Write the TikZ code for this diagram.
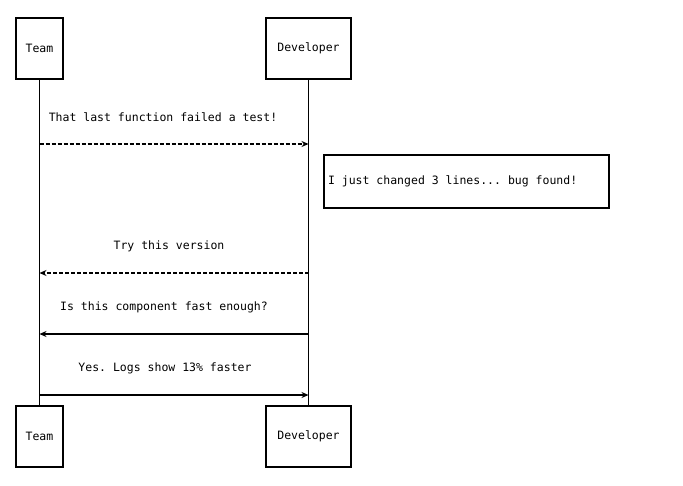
\documentclass[tikz,border=0pt]{standalone}
\usepackage{fontspec}
\setmonofont{DejaVu Sans Mono}
\usetikzlibrary{arrows.meta}
\begin{document}
\begin{tikzpicture}[x=1pt,y=-1pt,
  txt/.style={font=\ttfamily\fontsize{11.5}{13}\selectfont\frenchspacing},
  actor/.style={txt,draw,line width=1.4pt,minimum height=61pt,inner sep=0pt},
  lbl/.style={txt,inner sep=0pt},
  life/.style={line width=1.4pt},
  msg/.style={line width=1.2pt,-{Stealth[length=7pt,width=6pt]}},
  dsh/.style={dash pattern=on 4pt off 2pt},
  notebox/.style={txt,draw,line width=1.4pt,minimum width=285pt,minimum height=53pt,inner sep=4pt}]
\useasboundingbox (0,0) rectangle (683,485);
\node[actor,minimum width=47pt] (t1) at (39.5,48.5) {Team};
\node[actor,minimum width=85pt] (d1) at (308.5,48.5) {Developer};
\node[actor,minimum width=47pt] (t2) at (39.5,436.5) {Team};
\node[actor,minimum width=85pt] (d2) at (308.5,436.5) {Developer};
\draw[life] (t1) -- (t2);
\draw[life] (d1) -- (d2);
\coordinate (a1) at (t1.south |- 0,144);
\coordinate (b1) at (d1.south |- 0,144);
\coordinate (a2) at (t1.south |- 0,273);
\coordinate (b2) at (d1.south |- 0,273);
\coordinate (a3) at (t1.south |- 0,334);
\coordinate (b3) at (d1.south |- 0,334);
\coordinate (a4) at (t1.south |- 0,395);
\coordinate (b4) at (d1.south |- 0,395);
\draw[msg,dsh] (a1) -- (b1);
\draw[msg,dsh] (b2) -- (a2);
\draw[msg] (b3) -- (a3);
\draw[msg] (a4) -- (b4);
\node[lbl] (l1) at (163,117) {That last function failed a test!};
\node[lbl] (l2) at (169,246) {Try this version};
\node[lbl] (l3) at (164,307) {Is this component fast enough?};
\node[lbl] (l4) at (165,368) {Yes. Logs show 13\% faster};
\node[notebox] (n) at (466.5,181.5) {\makebox[277pt][l]{I just changed 3 lines... bug found!}};
\end{tikzpicture}
\end{document}
